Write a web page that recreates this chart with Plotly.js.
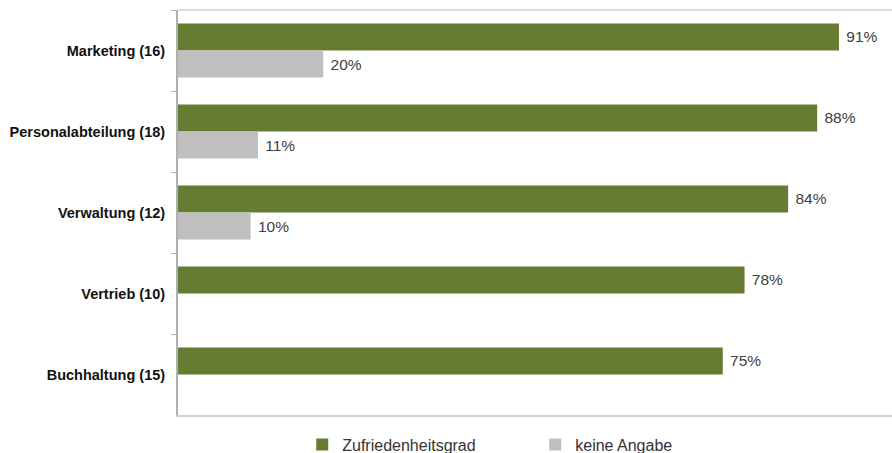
<!DOCTYPE html>
<html>
<head>
<meta charset="utf-8">
<script src="https://cdn.plot.ly/plotly-3.0.1.min.js"></script>
<style>html,body{margin:0;padding:0;background:#fff;}</style>
</head>
<body>
<div id="chart" style="width:892px;height:453px;"></div>
<script>
const categories = ["Marketing (16)", "Personalabteilung (18)", "Verwaltung (12)", "Vertrieb (10)", "Buchhaltung (15)"];
const zufriedenheit = [91, 88, 84, 78, 75];
const keineAngabe = [20, 11, 10, null, null];
const seriesNames = ["Zufriedenheitsgrad", "keine Angabe"];

const pct = v => (v == null ? "" : "\u00a0" + v + "%");
const FONT = "Liberation Sans, Arial, sans-serif";

const traces = [
  {
    type: "bar", orientation: "h", name: seriesNames[0],
    y: categories, x: zufriedenheit,
    marker: {color: "#677c33"},
    text: zufriedenheit.map(pct), textposition: "outside", cliponaxis: false,
    textfont: {family: FONT, size: 15.5, color: "#404040"},
    hoverinfo: "skip"
  },
  {
    type: "bar", orientation: "h", name: seriesNames[1],
    y: categories, x: keineAngabe,
    marker: {color: "#bfbfbf"},
    text: keineAngabe.map(pct), textposition: "outside", cliponaxis: false,
    textfont: {family: FONT, size: 15.5, color: "#404040"},
    hoverinfo: "skip"
  }
];

const layout = {
  width: 892, height: 453,
  margin: {l: 178, r: 0, t: 10, b: 38, autoexpand: false},
  paper_bgcolor: "#fff", plot_bgcolor: "#fff",
  font: {family: FONT, size: 13, color: "#222"},
  barmode: "group", bargap: 0.333, bargroupgap: 0,
  showlegend: true,
  legend: {
    orientation: "h", x: 0.174, xanchor: "left", y: -0.031, yanchor: "top",
    entrywidth: 188, entrywidthmode: "pixels",
    font: {family: FONT, size: 16, color: "#333"}, traceorder: "normal"
  },
  xaxis: {
    range: [0, 98.3], showgrid: false, zeroline: false, showticklabels: false,
    showline: true, linecolor: "#d0d0d0", linewidth: 2, ticks: "", fixedrange: true
  },
  yaxis: {
    autorange: "reversed", showgrid: false, zeroline: false,
    showline: true, linecolor: "#b0b0b0", linewidth: 2,
    ticks: "outside", tickson: "boundaries", ticklen: 5, tickcolor: "#b0b0b0", tickwidth: 1,
    tickfont: {family: FONT, size: 14.5, color: "#111", weight: "bold"},
    ticklabelstandoff: 8
  },
  shapes: [
    {type: "line", xref: "paper", yref: "paper", x0: 0, x1: 1, y0: 1, y1: 1,
     line: {color: "#d0d0d0", width: 1.5}}
  ]
};

Plotly.newPlot("chart", traces, layout, {displayModeBar: false, staticPlot: true});
</script>
</body>
</html>
